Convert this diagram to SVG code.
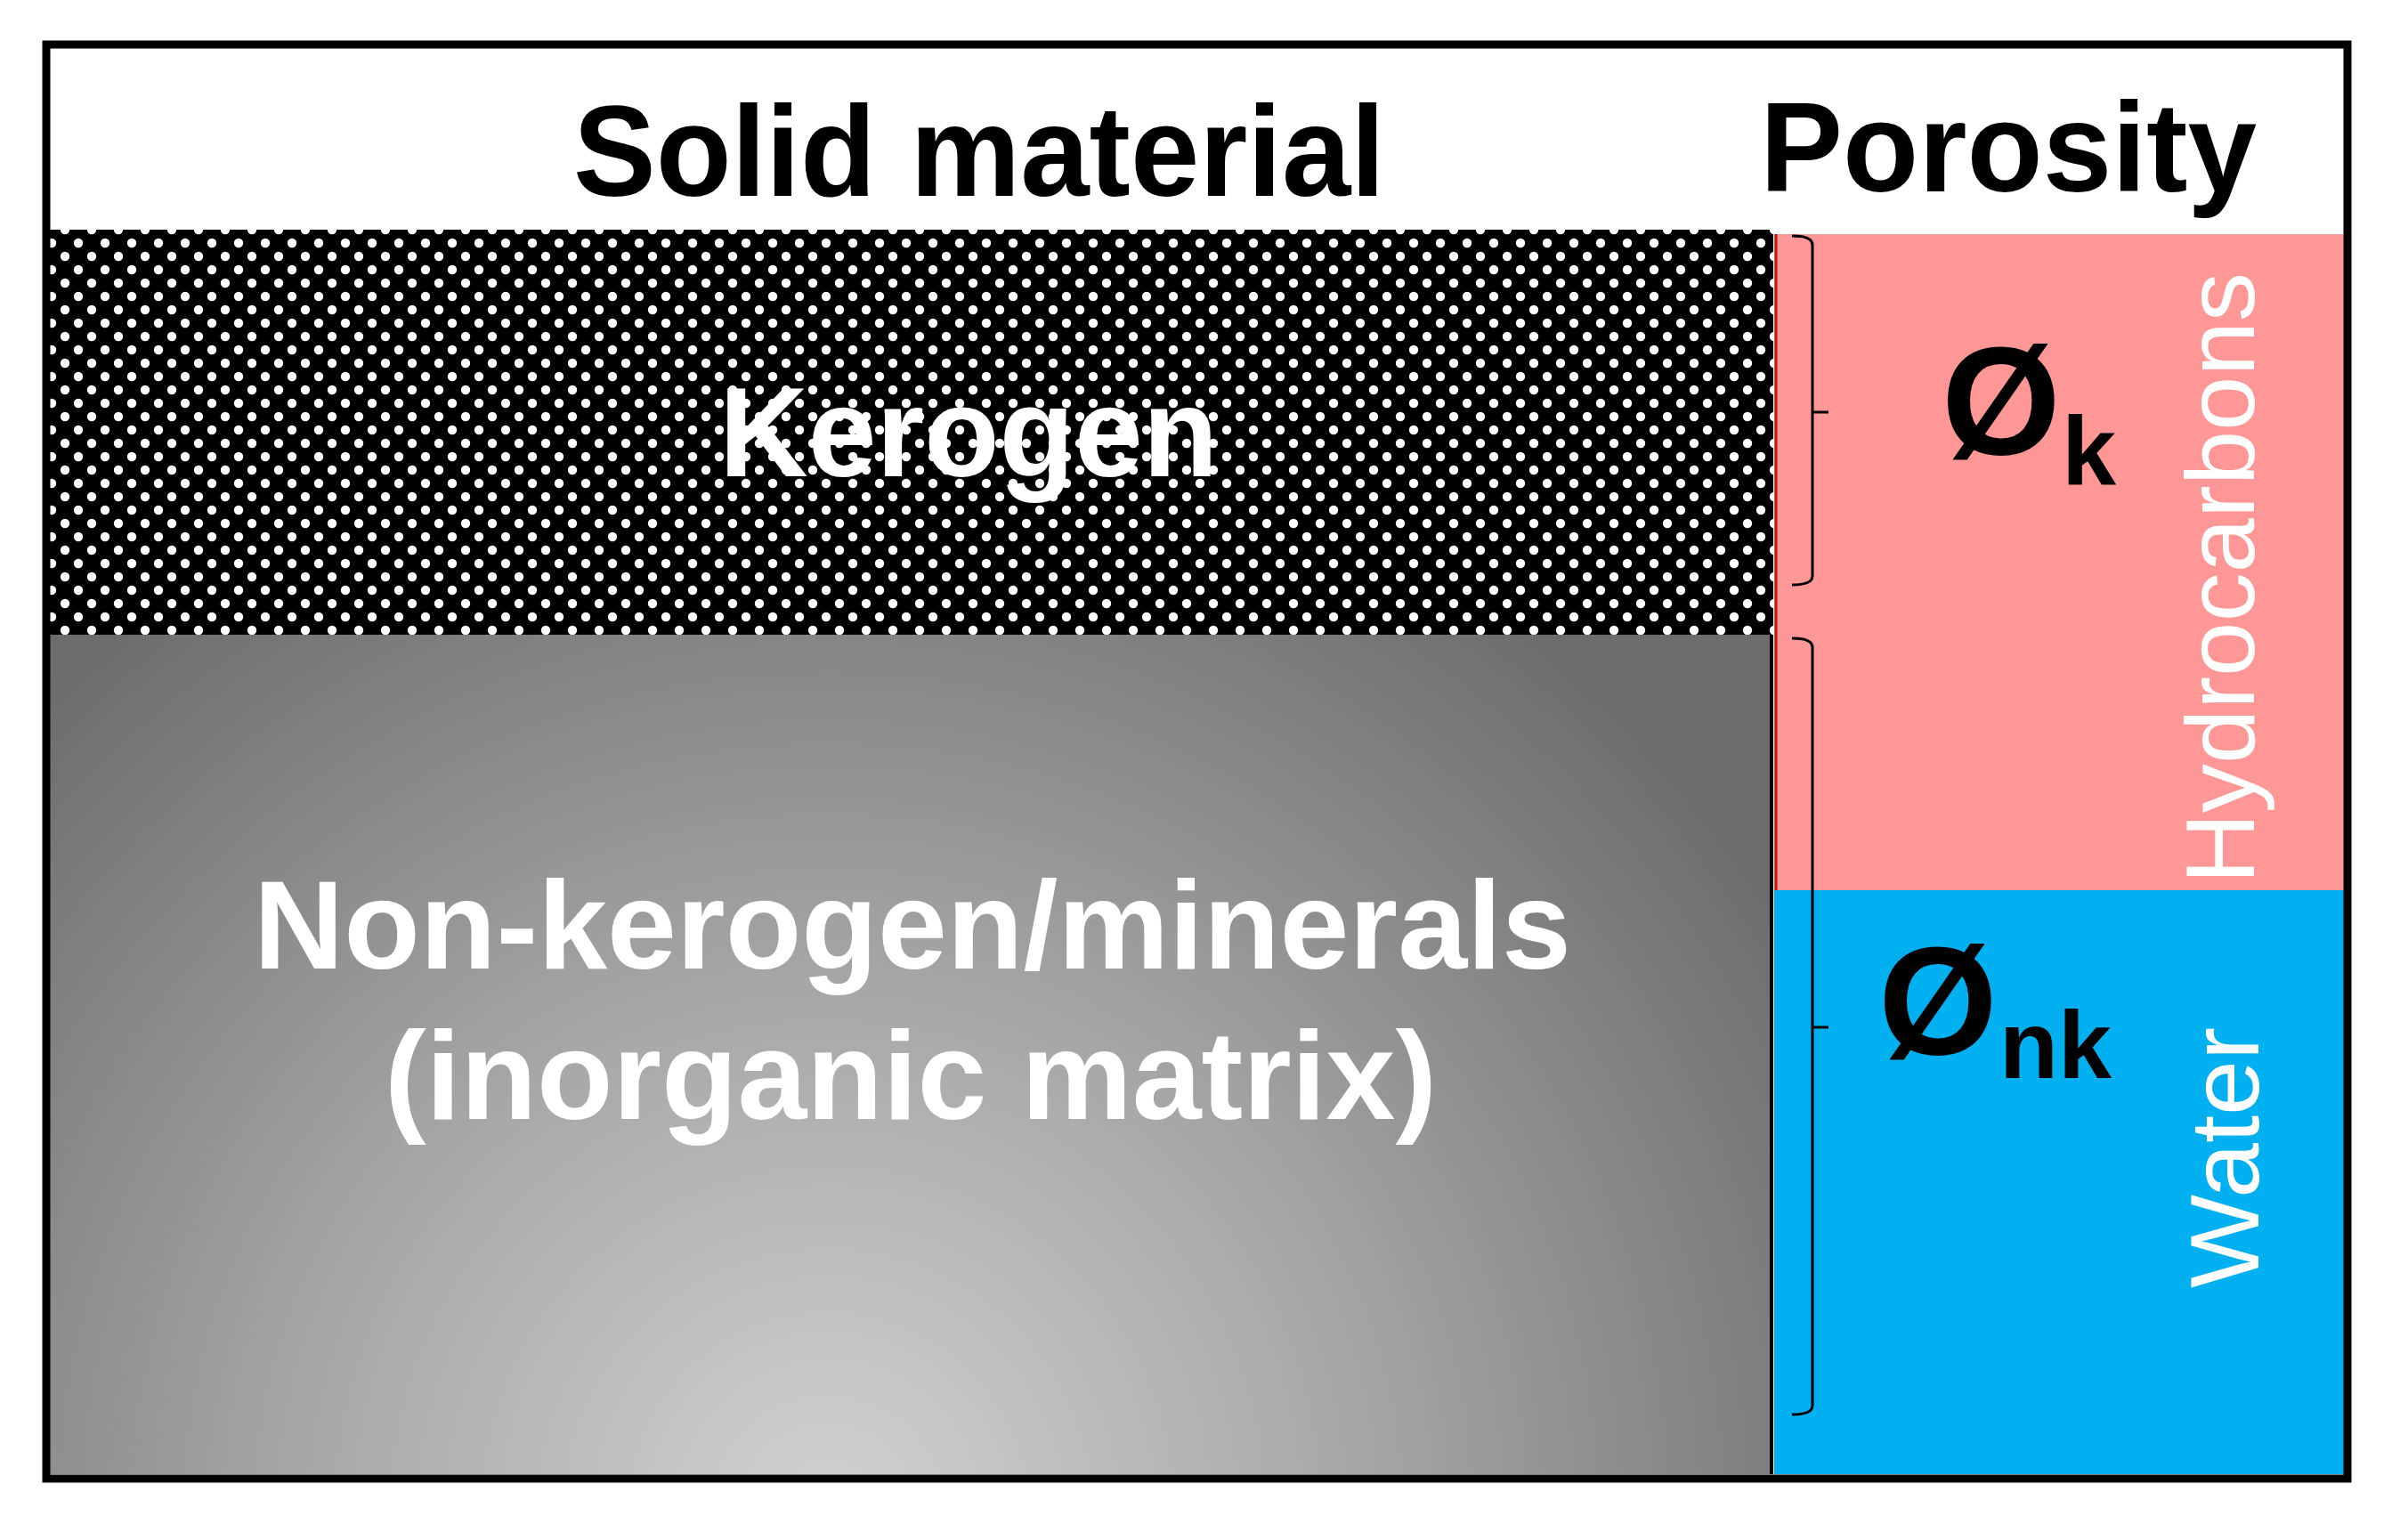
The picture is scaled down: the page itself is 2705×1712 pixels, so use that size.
<svg xmlns="http://www.w3.org/2000/svg" width="2705" height="1712" viewBox="0 0 2705 1712">
<style>
.hdr{font-family:"Liberation Sans",Arial,sans-serif;font-weight:bold;fill:#000}
.lbl{font-family:"Liberation Sans",Arial,sans-serif;font-weight:bold;fill:#fff}
.vert{font-family:"Liberation Sans",Arial,sans-serif;font-weight:normal;fill:#fff;font-size:110px}
.phi{font-family:"Liberation Sans",Arial,sans-serif;font-weight:bold;fill:#000}
.brace{fill:none;stroke:#000;stroke-width:3;stroke-linejoin:round}
</style>
<defs>
<pattern id="dots" patternUnits="userSpaceOnUse" x="51" y="266" width="30" height="30">
<rect width="30" height="30" fill="#000"/>
<circle cx="7" cy="7" r="5.2" fill="#fff"/>
<circle cx="22" cy="22" r="5.2" fill="#fff"/>
</pattern>
<radialGradient id="grayGrad" gradientUnits="userSpaceOnUse" cx="930" cy="1700" r="1280">
<stop offset="0" stop-color="#d2d2d2"/>
<stop offset="0.45" stop-color="#a8a8a8"/>
<stop offset="1" stop-color="#6c6c6c"/>
</radialGradient>
</defs>
<rect width="2705" height="1712" fill="#fff"/>
<g id="header">
<text class="hdr" x="644" y="220" font-size="144" textLength="912" lengthAdjust="spacingAndGlyphs">Solid material</text>
<text class="hdr" x="1977" y="215" font-size="142" textLength="558" lengthAdjust="spacingAndGlyphs">Porosity</text>
</g>
<g id="kerogen">
<rect x="56" y="258" width="1936" height="455" fill="url(#dots)"/>
<text class="lbl" x="808" y="535" font-size="142" textLength="560" lengthAdjust="spacingAndGlyphs">Kerogen</text>
</g>
<g id="nonkerogen">
<rect x="56" y="713" width="1932" height="943" fill="url(#grayGrad)"/>
<text class="lbl" x="285" y="1088" font-size="141" textLength="1480" lengthAdjust="spacingAndGlyphs">Non-kerogen/minerals</text>
<text class="lbl" x="432" y="1257" font-size="141" textLength="1182" lengthAdjust="spacingAndGlyphs">(inorganic matrix)</text>
</g>
<g id="hydrocarbons">
<rect x="1993" y="263" width="640" height="737" fill="#ff9797"/>
<line x1="1995" y1="263" x2="1995" y2="1000" stroke="#c81414" stroke-width="3"/>
<text class="vert" transform="translate(2532,993) rotate(-90)" textLength="687" lengthAdjust="spacingAndGlyphs">Hydrocarbons</text>
</g>
<g id="water">
<rect x="1993" y="1000" width="640" height="656" fill="#00b0f0"/>
<text class="vert" transform="translate(2537,1447) rotate(-90)" textLength="293" lengthAdjust="spacingAndGlyphs">Water</text>
</g>
<g id="phi-k">
<text class="phi"><tspan x="2181" y="510" font-size="172">Ø</tspan><tspan x="2316" y="544" font-size="110">k</tspan></text>
</g>
<g id="phi-nk">
<text class="phi"><tspan x="2110" y="1184" font-size="172">Ø</tspan><tspan x="2246" y="1211" font-size="108">nk</tspan></text>
</g>
<g id="connectors">
<path class="brace" d="M2013,265 Q2036,265 2036,275 L2036,647 Q2036,657 2013,657 M2036,463 L2054,463"/>
<path class="brace" d="M2013,717 Q2036,717 2036,727 L2036,1579 Q2036,1589 2013,1589 M2036,1154 L2054,1154"/>
</g>
<g id="frame">
<line x1="1990" y1="713" x2="1990" y2="1656" stroke="#000" stroke-width="4"/>
<rect x="52" y="50" width="2585" height="1611" fill="none" stroke="#000" stroke-width="9"/>
</g>
</svg>
